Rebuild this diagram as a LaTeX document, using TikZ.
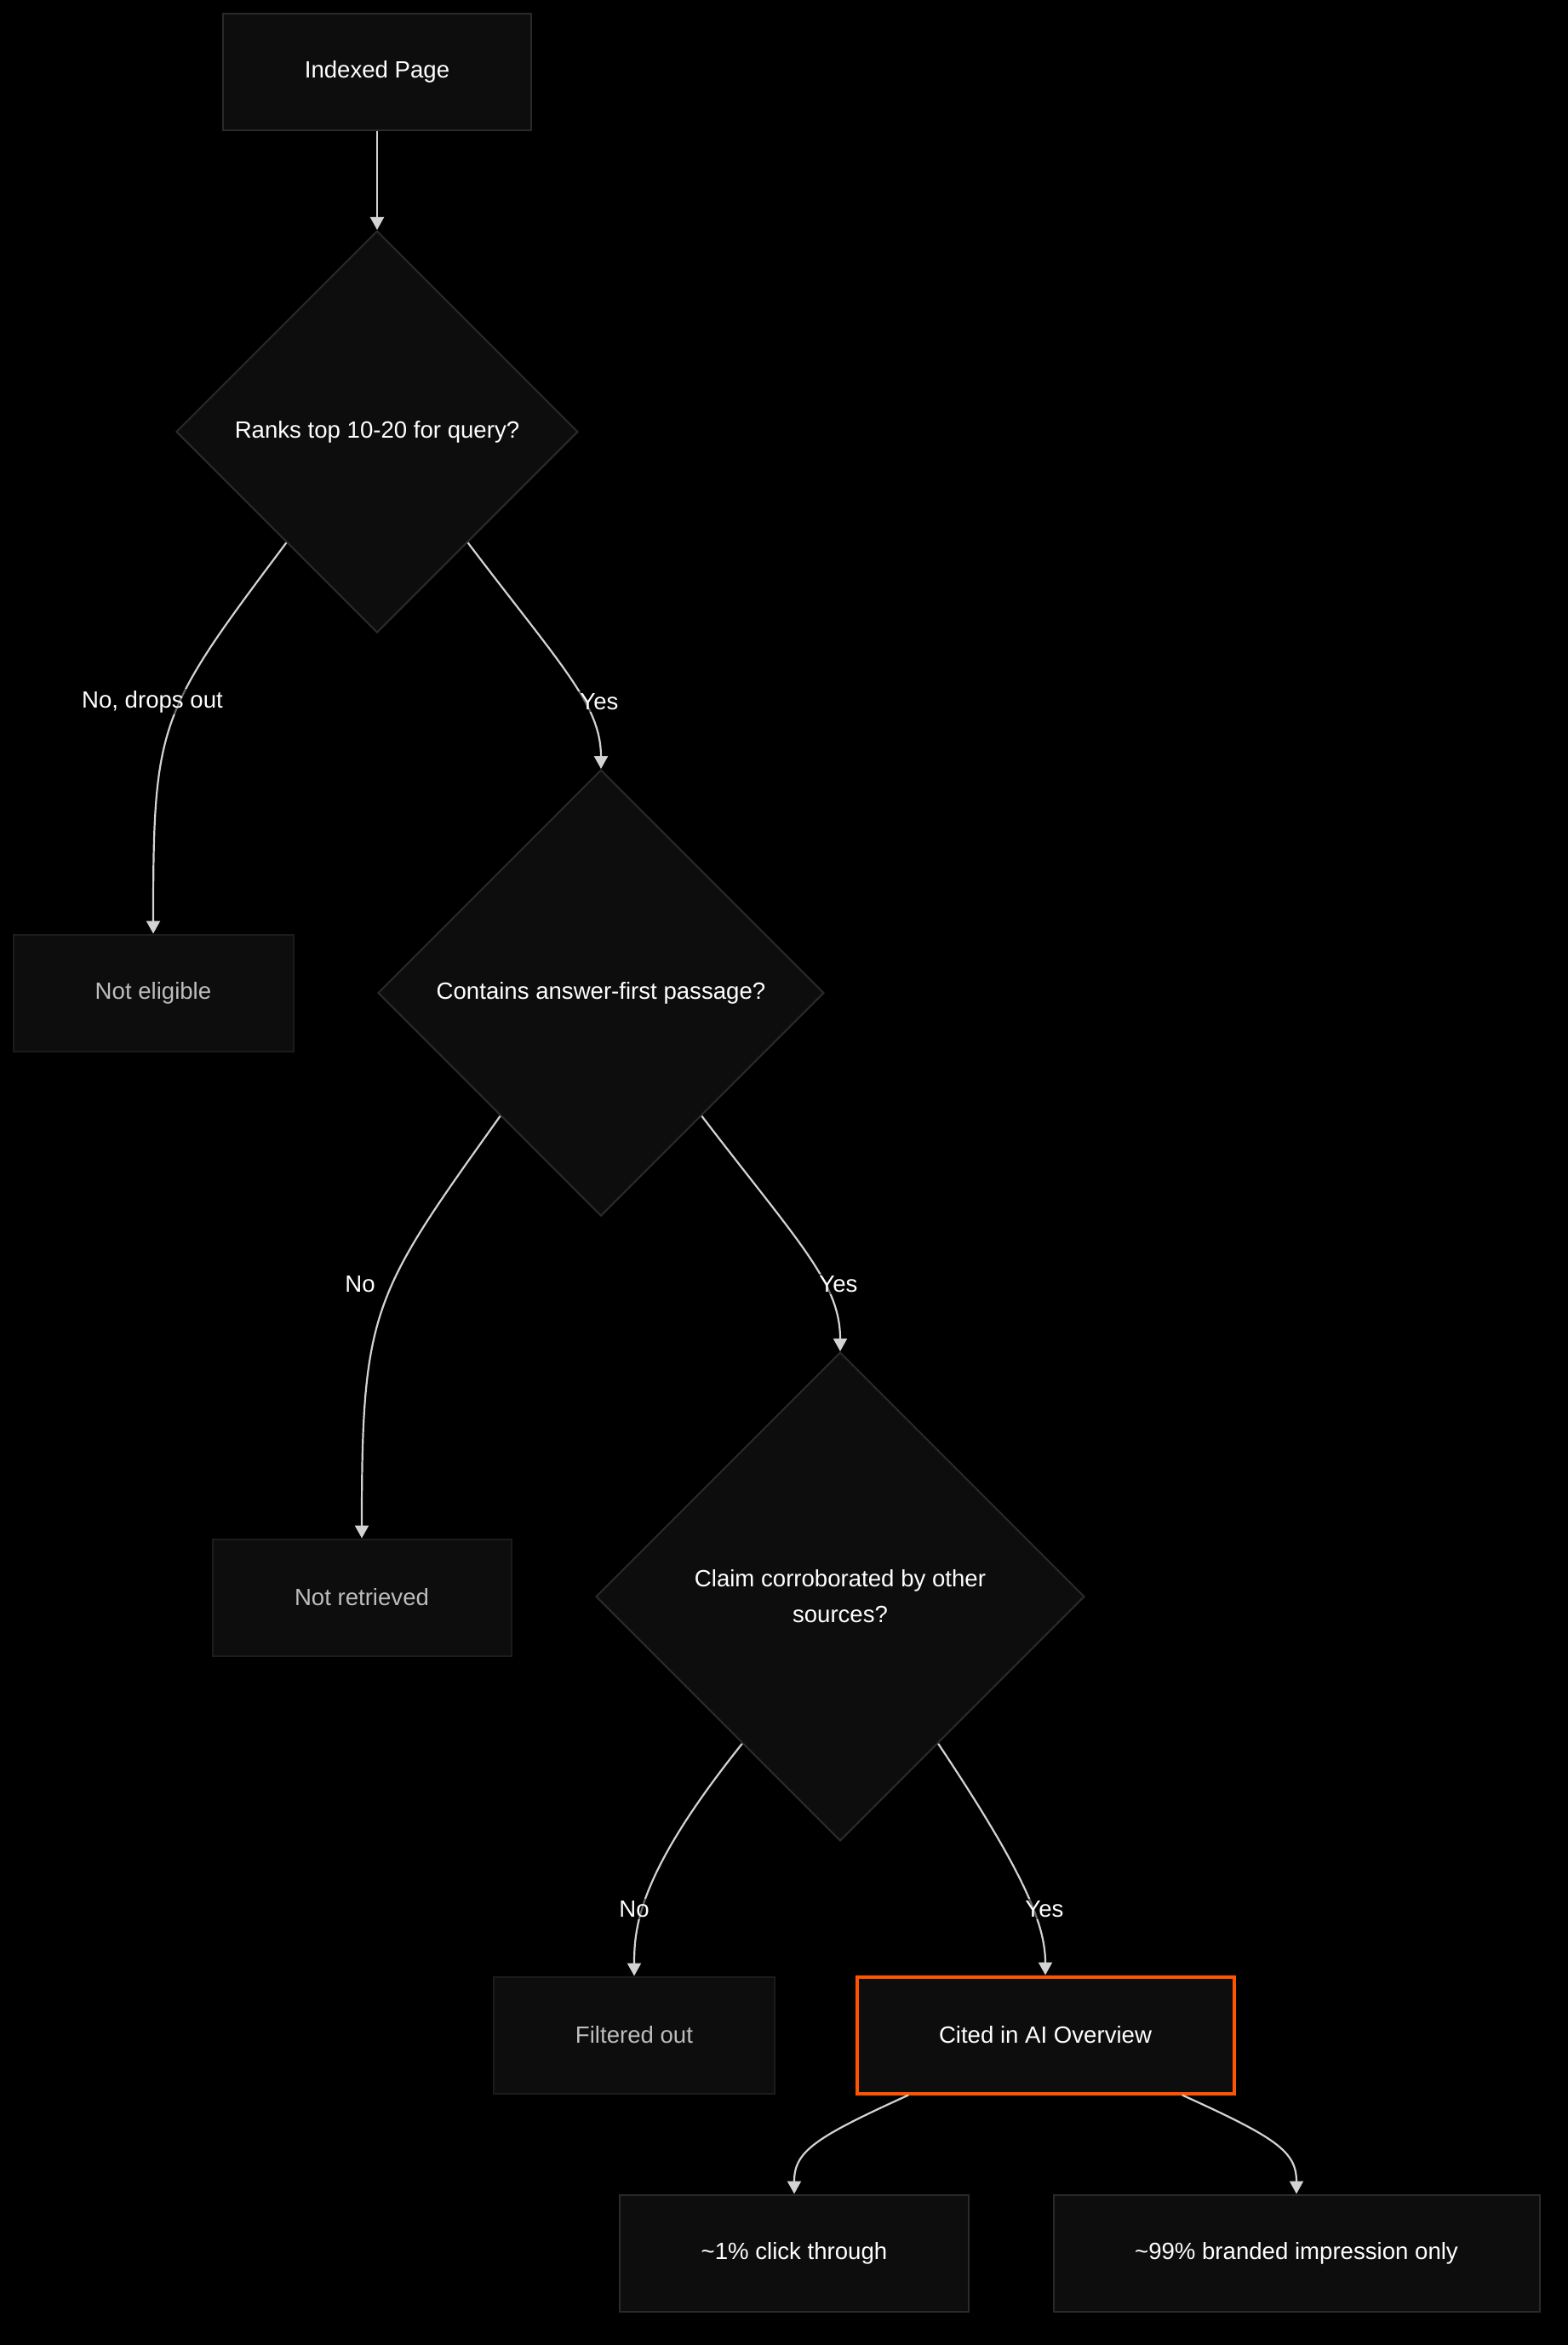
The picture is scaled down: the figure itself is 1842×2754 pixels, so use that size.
\documentclass[tikz,border=0pt]{standalone}
\usepackage{fontspec}
\setmainfont{Liberation Sans}
\usetikzlibrary{arrows.meta,shapes.geometric,calc}
\definecolor{cbg}{HTML}{000000}
\definecolor{cfill}{HTML}{0D0D0D}
\definecolor{cline}{HTML}{2A2A2A}
\definecolor{cdim}{HTML}{1C1C1C}
\definecolor{cdimT}{HTML}{BDBDBD}
\definecolor{cedge}{HTML}{D3D3D3}
\definecolor{chot}{HTML}{FF5500}
\tikzset{
  fbox/.style={draw=cline, fill=cfill, text=white, line width=1pt, align=center,
               inner sep=0pt, minimum height=68.5pt, font=\fontsize{13.8}{21}\selectfont},
  ndec/.style={fbox, diamond, aspect=1},
  ndim/.style={fbox, draw=cdim, text=cdimT},
  nhot/.style={fbox, draw=chot, line width=2pt},
  flow/.style={-{Triangle[length=7.5pt,width=8pt]}, draw=cedge, line width=1.1pt},
  elab/.style={font=\fontsize{13.8}{17}\selectfont, text=white, fill=cbg,
               fill opacity=0.5, text opacity=1, inner sep=1pt},
}

\begin{document}
\begin{tikzpicture}[x=0.5pt, y=-0.5pt]
  \path[use as bounding box, fill=cbg] (0,0) rectangle (1842,2754);
  % nodes
  \node[fbox, minimum width=181pt] (idx) at (443,84) {Indexed Page};
  \node[ndec, minimum size=236pt] (d1) at (443,507) {Ranks top 10-20 for query?};
  \node[ndim, minimum width=164.5pt] (nel) at (180,1166) {Not eligible};
  \node[ndec, minimum size=262pt] (d2) at (706,1166) {Contains answer-first passage?};
  \node[ndim, minimum width=175.5pt] (nret) at (425,1876) {Not retrieved};
  \node[ndec, minimum size=287pt] (d3) at (987,1875) {Claim corroborated by other\\sources?};
  \node[ndim, minimum width=165pt] (filt) at (745,2390) {Filtered out};
  \node[nhot, minimum width=221.5pt] (cited) at (1228,2390) {Cited in AI Overview};
  \node[fbox, minimum width=205pt] (click) at (933,2646) {\textasciitilde1\% click through};
  \node[fbox, minimum width=285.5pt] (brand) at (1523,2646) {\textasciitilde99\% branded impression only};
  % edge start points
  \coordinate (d1l) at ($(d1.west)!0.55!(d1.south)$);
  \coordinate (d1r) at ($(d1.east)!0.55!(d1.south)$);
  \coordinate (d2l) at ($(d2.west)!0.55!(d2.south)$);
  \coordinate (d2r) at ($(d2.east)!0.55!(d2.south)$);
  \coordinate (d3l) at ($(d3.west)!0.6!(d3.south)$);
  \coordinate (d3r) at ($(d3.east)!0.6!(d3.south)$);
  \coordinate (cl) at ($(cited.south west)!0.14!(cited.south east)$);
  \coordinate (cr) at ($(cited.south east)!0.14!(cited.south west)$);
  % edges
  \draw[flow] (idx) -- (d1);
  \draw[flow] (d1l) .. controls +(-150,200) and +(0,-250) .. (nel.north);
  \draw[flow] (d1r) .. controls +(110,145) and +(0,-75) .. (d2.north);
  \draw[flow] (d2l) .. controls +(-150,210) and +(0,-270) .. (nret.north);
  \draw[flow] (d2r) .. controls +(115,150) and +(0,-80) .. (d3.north);
  \draw[flow] (d3l) .. controls +(-120,150) and +(0,-60) .. (filt.north);
  \draw[flow] (d3r) .. controls +(100,150) and +(0,-60) .. (cited.north);
  \draw[flow] (cl) .. controls +(-110,50) and +(0,-50) .. (click.north);
  \draw[flow] (cr) .. controls +(110,50) and +(0,-50) .. (brand.north);
  % edge labels
  \node[elab] (lno1) at (179,824) {No, drops out};
  \node[elab] (lyes1) at (704,824) {Yes};
  \node[elab] (lno2) at (423,1508) {No};
  \node[elab] (lyes2) at (985,1508) {Yes};
  \node[elab] (lno3) at (745,2242) {No};
  \node[elab] (lyes3) at (1227,2242) {Yes};
\end{tikzpicture}
\end{document}
